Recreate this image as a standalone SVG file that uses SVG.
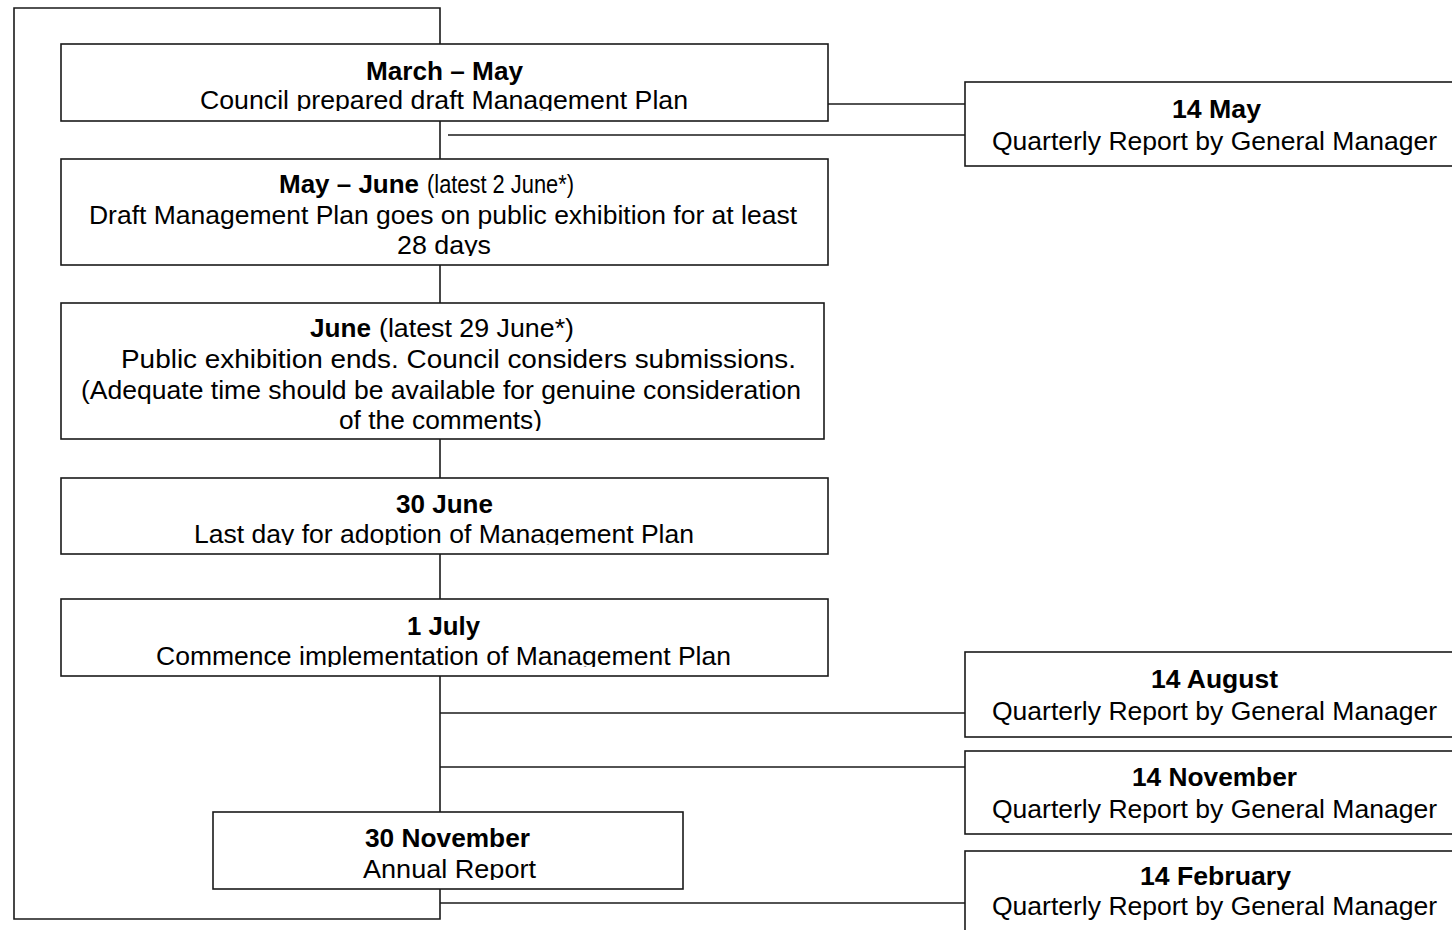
<svg xmlns="http://www.w3.org/2000/svg" width="1452" height="930" viewBox="0 0 1452 930">
<style>
.box{fill:#fff;stroke:#1a1a1a;stroke-width:1.6}
.ln{fill:none;stroke:#1a1a1a;stroke-width:1.6}
text{font-family:"Liberation Sans",Arial,sans-serif;font-size:25px;fill:#000}
.b{font-weight:bold}
</style>
<defs>
<clipPath id="c1"><rect x="61" y="44" width="767" height="67"/></clipPath>
<clipPath id="c2"><rect x="61" y="159" width="767" height="97"/></clipPath>
<clipPath id="c3"><rect x="61" y="303" width="763" height="128"/></clipPath>
<clipPath id="c4"><rect x="61" y="478" width="767" height="67"/></clipPath>
<clipPath id="c5"><rect x="61" y="599" width="767" height="68"/></clipPath>
<clipPath id="c6"><rect x="213" y="812" width="470" height="68"/></clipPath>
</defs>
<rect width="1452" height="930" fill="#fff"/>
<g id="connectors">
<polyline class="ln" points="440,44 440,8 14,8 14,919 440,919 440,889"/>
<line class="ln" x1="828" y1="104" x2="965" y2="104"/>
<line class="ln" x1="448" y1="135" x2="965" y2="135"/>
<line class="ln" x1="440" y1="121" x2="440" y2="159"/>
<line class="ln" x1="440" y1="265" x2="440" y2="303"/>
<line class="ln" x1="440" y1="439" x2="440" y2="478"/>
<line class="ln" x1="440" y1="554" x2="440" y2="599"/>
<line class="ln" x1="440" y1="676" x2="440" y2="812"/>
<line class="ln" x1="440" y1="713" x2="965" y2="713"/>
<line class="ln" x1="440" y1="767" x2="965" y2="767"/>
<line class="ln" x1="440" y1="903" x2="965" y2="903"/>
</g>
<g id="n1">
<rect class="box" x="61" y="44" width="767" height="77"/>
<g clip-path="url(#c1)">
<text class="b" x="366" y="80" textLength="157" lengthAdjust="spacingAndGlyphs">March – May</text>
<text x="200" y="109" textLength="488" lengthAdjust="spacingAndGlyphs">Council prepared draft Management Plan</text>
</g>
</g>
<g id="n2">
<rect class="box" x="61" y="159" width="767" height="106"/>
<g clip-path="url(#c2)">
<text class="b" x="279" y="193" textLength="140" lengthAdjust="spacingAndGlyphs">May – June</text>
<text x="427" y="193" textLength="147" lengthAdjust="spacingAndGlyphs">(latest 2 June*)</text>
<text x="89" y="224" textLength="708" lengthAdjust="spacingAndGlyphs">Draft Management Plan goes on public exhibition for at least</text>
<text x="397" y="254" textLength="94" lengthAdjust="spacingAndGlyphs">28 days</text>
</g>
</g>
<g id="n3">
<rect class="box" x="61" y="303" width="763" height="136"/>
<g clip-path="url(#c3)">
<text class="b" x="310" y="337" textLength="61" lengthAdjust="spacingAndGlyphs">June</text>
<text x="379" y="337" textLength="195" lengthAdjust="spacingAndGlyphs">(latest 29 June*)</text>
<text x="121" y="368" textLength="675" lengthAdjust="spacingAndGlyphs">Public exhibition ends. Council considers submissions.</text>
<text x="81" y="399" textLength="720" lengthAdjust="spacingAndGlyphs">(Adequate time should be available for genuine consideration</text>
<text x="339" y="429" textLength="203" lengthAdjust="spacingAndGlyphs">of the comments)</text>
</g>
</g>
<g id="n4">
<rect class="box" x="61" y="478" width="767" height="76"/>
<g clip-path="url(#c4)">
<text class="b" x="396" y="513" textLength="97" lengthAdjust="spacingAndGlyphs">30 June</text>
<text x="194" y="543" textLength="500" lengthAdjust="spacingAndGlyphs">Last day for adoption of Management Plan</text>
</g>
</g>
<g id="n5">
<rect class="box" x="61" y="599" width="767" height="77"/>
<g clip-path="url(#c5)">
<text class="b" x="407" y="635" textLength="73" lengthAdjust="spacingAndGlyphs">1 July</text>
<text x="156" y="665" textLength="575" lengthAdjust="spacingAndGlyphs">Commence implementation of Management Plan</text>
</g>
</g>
<g id="n6">
<rect class="box" x="213" y="812" width="470" height="77"/>
<g clip-path="url(#c6)">
<text class="b" x="365" y="847" textLength="165" lengthAdjust="spacingAndGlyphs">30 November</text>
<text x="363" y="878" textLength="173" lengthAdjust="spacingAndGlyphs">Annual Report</text>
</g>
</g>
<g id="r1">
<rect class="box" x="965" y="82" width="500" height="84"/>
<text class="b" x="1172" y="118" textLength="89" lengthAdjust="spacingAndGlyphs">14 May</text>
<text x="992" y="150" textLength="445" lengthAdjust="spacingAndGlyphs">Quarterly Report by General Manager</text>
</g>
<g id="r2">
<rect class="box" x="965" y="652" width="500" height="85"/>
<text class="b" x="1151" y="688" textLength="127" lengthAdjust="spacingAndGlyphs">14 August</text>
<text x="992" y="720" textLength="445" lengthAdjust="spacingAndGlyphs">Quarterly Report by General Manager</text>
</g>
<g id="r3">
<rect class="box" x="965" y="751" width="500" height="83"/>
<text class="b" x="1132" y="786" textLength="165" lengthAdjust="spacingAndGlyphs">14 November</text>
<text x="992" y="818" textLength="445" lengthAdjust="spacingAndGlyphs">Quarterly Report by General Manager</text>
</g>
<g id="r4">
<rect class="box" x="965" y="851" width="500" height="100"/>
<text class="b" x="1140" y="885" textLength="151" lengthAdjust="spacingAndGlyphs">14 February</text>
<text x="992" y="915" textLength="445" lengthAdjust="spacingAndGlyphs">Quarterly Report by General Manager</text>
</g>
</svg>
